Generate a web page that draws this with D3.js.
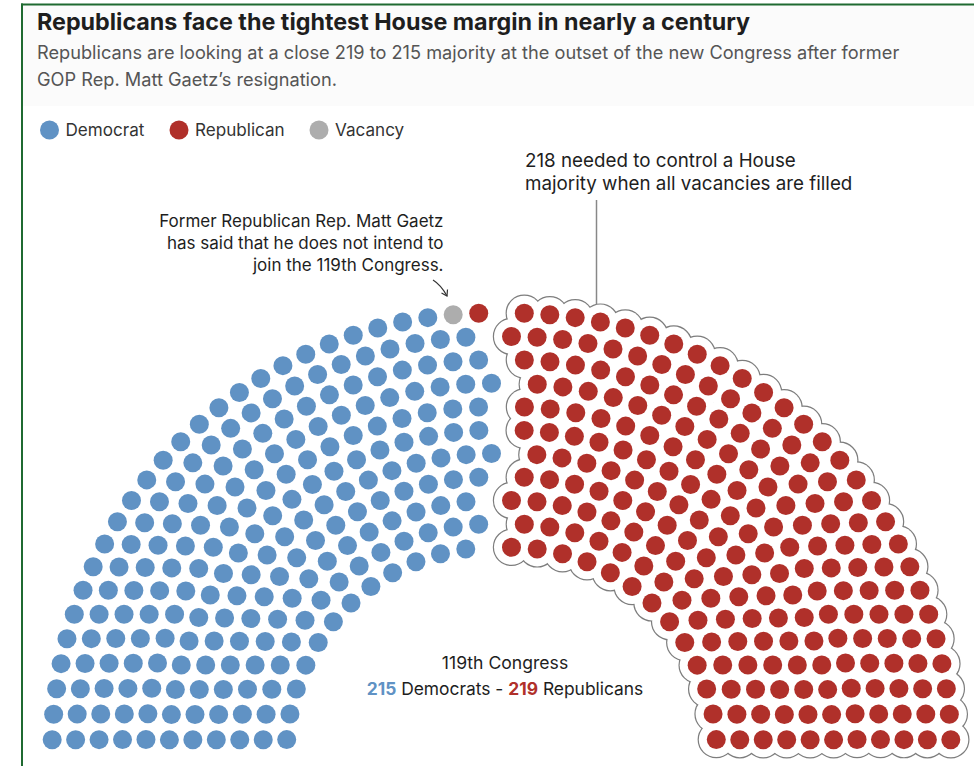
<!DOCTYPE html>
<html><head><meta charset="utf-8">
<script src="https://cdn.jsdelivr.net/npm/d3@7"></script>
<style>
body{margin:0;background:#fff;}
svg{display:block;font-family:"Inter","Liberation Sans",Arial,sans-serif;}
</style></head><body>
<svg id="chart" width="974" height="766"></svg>
<script>
// ---- data ----
const parties = ["Democrat", "Republican", "Vacancy"];
const partyColors = ["#6092c4", "#b0302a", "#adadad"];
const seatCounts = [215, 219, 1];            // Democrat, Republican, Vacancy
const rowSeats = [25, 28, 31, 34, 37, 40, 42, 45, 48, 51, 54]; // inner -> outer
const majorityBlock = 218;                   // outlined seats
const centreLeftRows = [4, 7];               // rows whose centre seat sits in the left block

const titleText = "Republicans face the tightest House margin in nearly a century";
const subtitleLines = ["Republicans are looking at a close 219 to 215 majority at the outset of the new Congress after former",
                       "GOP Rep. Matt Gaetz\u2019s resignation."];
const noteMajority = ["218 needed to control a House", "majority when all vacancies are filled"];
const noteGaetz = ["Former Republican Rep. Matt Gaetz", "has said that he does not intend to", "join the 119th Congress."];
const centreTitle = "119th Congress";

// ---- layout ----
const svg = d3.select("#chart");
const color = d3.scaleOrdinal().domain(parties).range(partyColors);
const cx = 501.5, cy = 752.5, split = 10, seatR = 9.5, haloR = 17.5;
const rowR = d3.scaleLinear().domain([0, rowSeats.length - 1]).range([205.2, 439.5]);

// frame
svg.append("rect").attr("x", 23).attr("y", 5).attr("width", 951).attr("height", 101).attr("fill", "#fbfbfb");
svg.append("line").attr("x1", 22).attr("x2", 22).attr("y1", 3.5).attr("y2", 766).attr("stroke", "#1f6a31").attr("stroke-width", 2);
svg.append("line").attr("x1", 21).attr("x2", 974).attr("y1", 4.5).attr("y2", 4.5).attr("stroke", "#1f6a31").attr("stroke-width", 2);

// title / subtitle
svg.append("text").attr("x", 37).attr("y", 30).attr("font-size", 23.3).attr("font-weight", 700)
  .attr("fill", "#1e1e1e").text(titleText);
svg.append("g").selectAll("text").data(subtitleLines).join("text")
  .attr("x", 37).attr("y", (d, i) => 59 + i * 26.5).attr("font-size", 18.2).attr("fill", "#555").text(d => d);

// legend
const legX = [49.5, 179, 319];
const leg = svg.append("g").selectAll("g").data(parties).join("g")
  .attr("transform", (d, i) => `translate(${legX[i]},130)`);
leg.append("circle").attr("r", seatR).attr("fill", d => color(d));
leg.append("text").attr("x", 16).attr("y", 6).attr("font-size", 17.1).attr("fill", "#333").text(d => d);

// seats
const seats = [];
rowSeats.forEach((n, k) => {
  for (let j = 0; j < n; j++) seats.push({row: k, j, angle: (j + 0.5) * Math.PI / n, r: rowR(k)});
});
seats.forEach(s => {
  const d = s.angle - Math.PI / 2;
  s.side = Math.abs(d) < 1e-9 ? (centreLeftRows.includes(s.row) ? "L" : "R") : (d < 0 ? "L" : "R");
  const p = d3.pointRadial(s.angle - Math.PI / 2, s.r);
  s.x = cx + (s.side === "L" ? -split : split) + p[0];
  s.y = cy + p[1];
});
const leftSeats = seats.filter(s => s.side === "L").sort((a, b) => a.row - b.row || a.angle - b.angle);
const rightSeats = seats.filter(s => s.side === "R");
// left block: democrats, then vacancy, then the remaining republican(s)
const leftOrder = [].concat(
  d3.range(seatCounts[0]).map(() => parties[0]),
  d3.range(seatCounts[2]).map(() => parties[2]),
  d3.range(seatCounts[1] - majorityBlock).map(() => parties[1]));
leftSeats.forEach((s, i) => s.party = leftOrder[i]);
rightSeats.forEach((s, i) => s.party = i < majorityBlock ? parties[1] : parties[0]);

// majority annotation line (under halo)
svg.append("line").attr("x1", 596.5).attr("x2", 596.5).attr("y1", 200).attr("y2", 310)
  .attr("stroke", "#888").attr("stroke-width", 1.5);
svg.append("g").selectAll("text").data(noteMajority).join("text")
  .attr("x", 525).attr("y", (d, i) => 167 + i * 23).attr("font-size", 18.8).attr("fill", "#1e1e1e").text(d => d);

// halo around majority block
const halo = svg.append("g");
halo.selectAll("circle.o").data(rightSeats).join("circle").attr("class", "o")
  .attr("cx", d => d.x).attr("cy", d => d.y).attr("r", haloR)
  .attr("fill", "none").attr("stroke", "#7d7d7d").attr("stroke-width", 2.4);
halo.selectAll("circle.f").data(rightSeats).join("circle").attr("class", "f")
  .attr("cx", d => d.x).attr("cy", d => d.y).attr("r", haloR).attr("fill", "#fff");

svg.append("g").selectAll("circle").data(seats).join("circle")
  .attr("cx", d => d.x).attr("cy", d => d.y).attr("r", seatR).attr("fill", d => color(d.party));

// Gaetz note
svg.append("g").selectAll("text").data(noteGaetz).join("text")
  .attr("x", 443.5).attr("y", (d, i) => 227 + i * 22).attr("text-anchor", "end")
  .attr("font-size", 17).attr("fill", "#1e1e1e").text(d => d);
svg.append("path").attr("d", "M433,280 Q441,285 447,296").attr("fill", "none").attr("stroke", "#333").attr("stroke-width", 1.2);
svg.append("path").attr("d", "M441.5,293 L447,296 L447.5,289.5").attr("fill", "none").attr("stroke", "#333").attr("stroke-width", 1.2);

// centre label
svg.append("text").attr("x", 505).attr("y", 669).attr("text-anchor", "middle").attr("font-size", 17.6)
  .attr("fill", "#1e1e1e").text(centreTitle);
const t2 = svg.append("text").attr("x", 505).attr("y", 695).attr("text-anchor", "middle").attr("font-size", 17.4).attr("fill", "#1e1e1e");
t2.append("tspan").attr("font-weight", 700).attr("fill", color(parties[0])).text(seatCounts[0]);
t2.append("tspan").text(" Democrats - ");
t2.append("tspan").attr("font-weight", 700).attr("fill", color(parties[1])).text(seatCounts[1]);
t2.append("tspan").text(" Republicans");
</script>
</body></html>
